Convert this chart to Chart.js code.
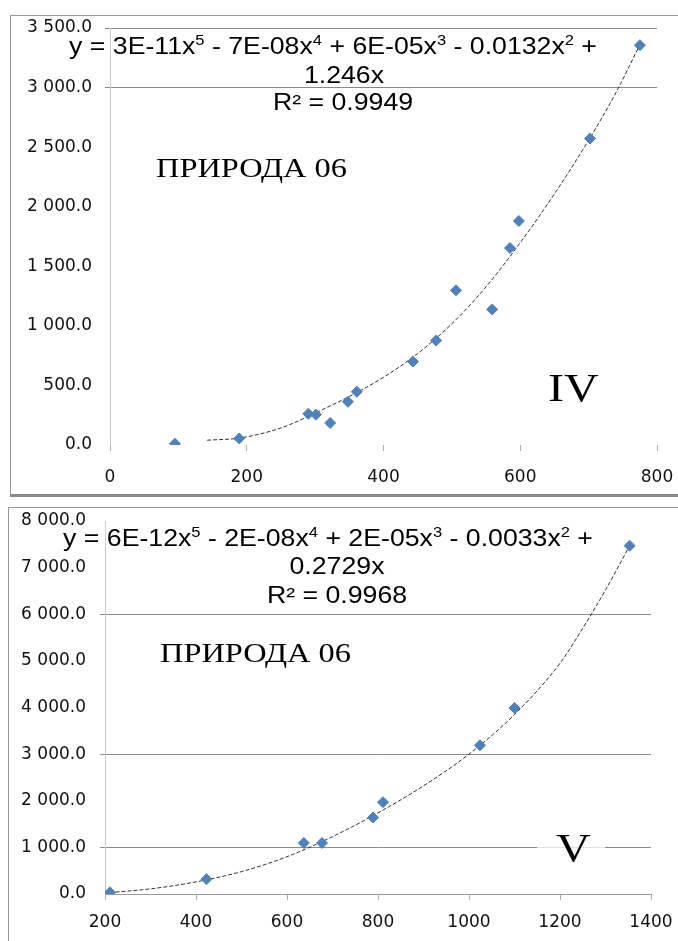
<!DOCTYPE html>
<html>
<head>
<meta charset="utf-8">
<script src="https://cdn.jsdelivr.net/npm/chart.js@4/dist/chart.umd.min.js"></script>
<style>
  html, body { margin: 0; padding: 0; background: #fff; overflow: hidden; }
  body { width: 678px; height: 941px; position: relative; }
  .box { position: absolute; box-sizing: border-box; }
  #box1 { left: 10px; top: 15px; width: 690px; height: 482px; border-left: 1px solid #999; border-top: 1px solid #999; border-bottom: 3px solid #888; }
  #box2 { left: 8px; top: 507px; width: 690px; height: 460px; border-left: 1px solid #999; border-top: 1px solid #999; }
  canvas { position: absolute; left: 0; }
  #chartIV { top: 0; }
  #chartV { top: 500px; }
</style>
</head>
<body>
<div class="box" id="box1"></div>
<div class="box" id="box2"></div>
<canvas id="chartIV" width="678" height="500"></canvas>
<canvas id="chartV" width="678" height="441"></canvas>
<script>
// ---- chart IV data ----
const xIV = [95, 189, 290, 301, 322, 348, 361, 443, 477, 506, 559, 585, 598, 702, 775];
const yIV = [10, 55, 262, 255, 185, 363, 447, 700, 877, 1298, 1138, 1653, 1880, 2572, 3356];
const trendXIV = [142, 190, 250, 300, 350, 400, 450, 500, 550, 600, 650, 700, 740, 775];
const trendYIV = [40, 59, 143, 268, 408, 568, 768, 1018, 1328, 1698, 2108, 2558, 2958, 3361];
const eqIV = ['y = 3E-11x^5 - 7E-08x^4 + 6E-05x^3 - 0.0132x^2 +', '1.246x', 'R² = 0.9949'];

// ---- chart V data ----
const xV = [211, 423, 637, 677, 789, 811, 1024, 1100, 1353];
const yV = [35, 318, 1095, 1095, 1640, 1970, 3190, 3990, 7470];
const trendXV = [210, 300, 400, 500, 600, 700, 800, 900, 1000, 1100, 1200, 1250, 1300, 1353];
const trendYV = [30, 110, 260, 480, 800, 1230, 1740, 2320, 3000, 3850, 4950, 5700, 6520, 7470];
const eqV = ['y = 6E-12x^5 - 2E-08x^4 + 2E-05x^3 - 0.0033x^2 +', '0.2729x', 'R² = 0.9968'];

const titleText = 'ПРИРОДА 06';

const BLUE = '#4F81BD';
const TICK_FONT = { family: 'DejaVu Sans', size: 17 };

function fmt(v) {
    const s = Number(v).toFixed(1);
    const parts = s.split('.');
    return parts[0].replace(/\B(?=(\d{3})+(?!\d))/g, ' ') + '.' + parts[1];
}

function toPoints(xs, ys) {
    return xs.map((x, i) => ({ x: x, y: ys[i] }));
}

// text with ^n superscripts, stretched horizontally like the scan
function drawRuns(ctx, text, cx, cy, size, family, sx, align) {
    const runs = [];
    text.split(/\^(\d)/).forEach((t, i) => {
        if (t !== '') runs.push({ t: t, sup: i % 2 === 1 });
    });
    let total = 0;
    runs.forEach(r => {
        ctx.font = (r.sup ? size * 0.62 : size) + 'px ' + family;
        r.w = ctx.measureText(r.t).width;
        total += r.w;
    });
    const start = align === 'left' ? cx : cx - total * sx / 2;
    ctx.save();
    ctx.translate(start, cy);
    ctx.scale(sx, 1);
    ctx.fillStyle = '#000';
    ctx.textBaseline = 'middle';
    ctx.textAlign = 'left';
    let x = 0;
    runs.forEach(r => {
        ctx.font = (r.sup ? size * 0.62 : size) + 'px ' + family;
        ctx.fillText(r.t, x, r.sup ? -size * 0.3 : 0);
        x += r.w;
    });
    ctx.restore();
}

const SANS = '"Liberation Sans", Arial, sans-serif';
const SERIF = '"Liberation Serif", "Times New Roman", serif';

function makeChart(id, cfg) {
    const ctx = document.getElementById(id).getContext('2d');
    return new Chart(ctx, {
        type: 'scatter',
        data: {
            datasets: [{
                data: toPoints(cfg.xs, cfg.ys),
                backgroundColor: BLUE,
                borderColor: BLUE,
                pointStyle: 'rectRot',
                pointRadius: 5.5,
                pointHoverRadius: 5.5,
                order: 0
            }, {
                data: toPoints(cfg.tx, cfg.ty),
                showLine: true,
                borderColor: '#333',
                borderWidth: 1,
                borderDash: [4, 2],
                pointRadius: 0,
                cubicInterpolationMode: 'monotone',
                order: 1
            }]
        },
        options: {
            responsive: false,
            animation: false,
            devicePixelRatio: 1,
            layout: { padding: cfg.padding },
            plugins: { legend: { display: false }, tooltip: { enabled: false } },
            scales: {
                x: {
                    type: 'linear',
                    min: cfg.xMin, max: cfg.xMax,
                    ticks: { stepSize: cfg.xStep, font: TICK_FONT, color: '#111', padding: cfg.xPad, maxRotation: 0, callback: v => String(v) },
                    grid: { drawOnChartArea: false, tickLength: 6, color: '#aaa' },
                    border: { display: cfg.xBorder, color: '#999' },
                    afterFit: s => { s.height = cfg.xHeight; s.paddingLeft = 0; s.paddingRight = 0; }
                },
                y: {
                    min: 0, max: cfg.yMax,
                    ticks: { stepSize: cfg.yStep, font: TICK_FONT, color: '#111', padding: cfg.yPad, callback: v => fmt(v) },
                    grid: {
                        tickLength: 5,
                        color: c => cfg.gridAt.includes(c.tick.value) ? '#8a8a8a' : 'rgba(0,0,0,0)'
                    },
                    border: { color: '#ccc' },
                    afterFit: s => { s.width = cfg.yWidth; s.paddingTop = 0; s.paddingBottom = 0; }
                }
            }
        },
        plugins: [{
            id: 'labels' + id,
            afterDraw(chart) {
                const c = chart.ctx;
                const oy = cfg.offsetY;
                drawRuns(c, cfg.eq[0], cfg.eqX[0], cfg.eqY[0] - oy, 23, SANS, 1.16);
                drawRuns(c, cfg.eq[1], cfg.eqX[1], cfg.eqY[1] - oy, 23, SANS, 1.16);
                drawRuns(c, cfg.eq[2], cfg.eqX[2], cfg.eqY[2] - oy, 23, SANS, 1.16);
                drawRuns(c, titleText, cfg.titlePos[0], cfg.titlePos[1] - oy, 27, SERIF, 1.2, 'left');
                if (cfg.roman.box) {
                    c.save();
                    c.fillStyle = 'rgba(255,255,255,0.75)';
                    c.fillRect(cfg.roman.box[0], cfg.roman.box[1] - oy, cfg.roman.box[2], cfg.roman.box[3]);
                    c.restore();
                }
                drawRuns(c, cfg.roman.text, cfg.roman.x, cfg.roman.y - oy, 40, SERIF, 1.2, 'left');
            }
        }]
    });
}

makeChart('chartIV', {
    xs: xIV, ys: yIV, tx: trendXIV, ty: trendYIV,
    xMin: 0, xMax: 800, xStep: 200, yMax: 3500, yStep: 500,
    padding: { left: 0, right: 21, top: 28, bottom: 0 },
    xHeight: 55, yWidth: 110, xPad: 16, yPad: 13, xBorder: false,
    gridAt: [3000, 3500],
    offsetY: 0,
    eq: eqIV, eqX: [333, 344, 343], eqY: [48, 77, 104],
    titlePos: [156, 170],
    roman: { text: 'IV', x: 548, y: 390 }
});

makeChart('chartV', {
    xs: xV, ys: yV, tx: trendXV, ty: trendYV,
    xMin: 200, xMax: 1400, xStep: 200, yMax: 8000, yStep: 1000,
    padding: { left: 0, right: 27, top: 21, bottom: 0 },
    xHeight: 47, yWidth: 105, xPad: 12, yPad: 14, xBorder: true,
    gridAt: [1000, 3000, 6000],
    offsetY: 500,
    eq: eqV, eqX: [328, 337, 337], eqY: [540, 568, 597],
    titlePos: [160, 655],
    roman: { text: 'V', x: 556, y: 850, box: [537, 830, 68, 40] }
});
</script>
</body>
</html>
